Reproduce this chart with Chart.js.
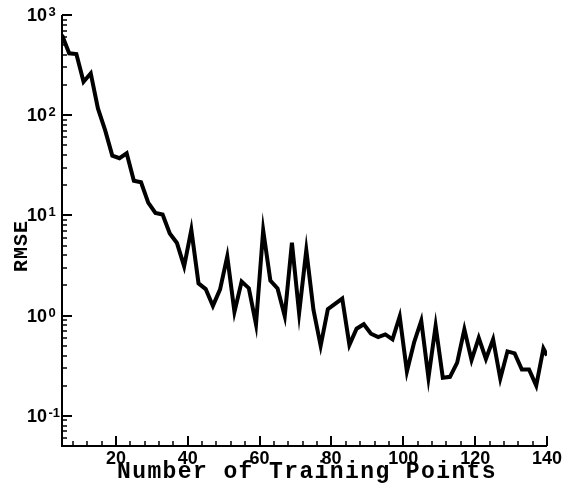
<!DOCTYPE html>
<html><head><meta charset="utf-8">
<script src="https://cdn.jsdelivr.net/npm/chart.js@4.4.1/dist/chart.umd.min.js"></script>
<style>html,body{margin:0;padding:0;background:#fff;}canvas{display:block;}</style>
</head><body>
<canvas id="c" width="570" height="489"></canvas>
<script>
// ---- data ----
const xValues = [5,7,9,11,13,15,17,19,21,23,25,27,29,31,33,35,37,39,41,43,45,47,49,51,53,55,57,59,61,63,65,67,69,71,73,75,77,79,81,83,85,87,89,91,93,95,97,99,101,103,105,107,109,111,113,115,117,119,121,123,125,127,129,131,133,135,137,139,140];
const rmse = [631,415,408,216,262,117,71,39.5,37.2,41.7,22.2,21.4,13.4,10.6,10.2,6.6,5.3,3.1,7.2,2.1,1.84,1.25,1.83,3.9,1.09,2.19,1.88,0.82,7.1,2.24,1.87,0.99,5.35,1.06,4.5,1.14,0.50,1.16,1.31,1.48,0.51,0.74,0.82,0.66,0.61,0.65,0.58,0.98,0.277,0.54,0.89,0.24,0.79,0.24,0.245,0.34,0.73,0.36,0.60,0.37,0.58,0.235,0.44,0.42,0.29,0.29,0.20,0.47,0.40];
const xTickValues = [20,40,60,80,100,120,140];
const xTickLabels = ['20','40','60','80','100','120','140'];
const xMinorStep = 4;
const yTickValues = [0.1,1,10,100,1000];
const yTickBase = '10';
const yTickExponents = ['-1','0','1','2','3'];
const xTitle = 'Number of Training Points';
const yTitle = 'RMSE';
const xRange = [5,140];
const yRange = [0.05,1000];

const decor = {
  id:'decor',
  afterDraw(chart){
    const {ctx, chartArea:a, scales:{x,y}} = chart;
    ctx.save();
    ctx.strokeStyle='#000'; ctx.fillStyle='#000';
    ctx.lineWidth=2;
    ctx.beginPath();
    yTickValues.forEach(v=>{const p=Math.round(y.getPixelForValue(v)); ctx.moveTo(a.left,p); ctx.lineTo(a.left+10,p);});
    xTickValues.forEach(v=>{const p=Math.round(x.getPixelForValue(v)); ctx.moveTo(p,a.bottom); ctx.lineTo(p,a.bottom-10);});
    ctx.stroke();
    ctx.lineWidth=1.5;
    ctx.beginPath();
    for(let e=-2;e<3;e++){
      for(let m=2;m<=9;m++){
        const v=m*Math.pow(10,e);
        if(v<yRange[0]-1e-9||v>yRange[1]) continue;
        const p=Math.round(y.getPixelForValue(v));
        ctx.moveTo(a.left,p); ctx.lineTo(a.left+5,p);
      }
    }
    for(let v=xMinorStep*2; v<xRange[1]; v+=xMinorStep){
      if(v%20===0) continue;
      const p=Math.round(x.getPixelForValue(v));
      ctx.moveTo(p,a.bottom); ctx.lineTo(p,a.bottom-5);
    }
    ctx.stroke();
    ctx.lineWidth=2;
    ctx.beginPath();
    ctx.moveTo(a.left,a.top); ctx.lineTo(a.left,a.bottom); ctx.lineTo(a.right,a.bottom);
    ctx.stroke();
    yTickValues.forEach((v,i)=>{
      const p=y.getPixelForValue(v);
      ctx.font='bold 18px "Liberation Sans", Arial, sans-serif';
      ctx.textAlign='right'; ctx.textBaseline='middle';
      ctx.fillText(yTickBase,47,p+1);
      ctx.font='bold 13px "Liberation Sans", Arial, sans-serif';
      ctx.textAlign='left'; ctx.textBaseline='alphabetic';
      ctx.fillText(yTickExponents[i],48.5,p+1);
    });
    ctx.font='bold 18px "Liberation Sans", Arial, sans-serif';
    ctx.textAlign='center'; ctx.textBaseline='alphabetic';
    xTickValues.forEach((v,i)=>{
      const p=x.getPixelForValue(v);
      ctx.fillText(xTickLabels[i],p,464);
    });
    ctx.font='bold 23px "Liberation Mono", "Courier New", monospace';
    ctx.letterSpacing='1.4px';
    ctx.textAlign='center'; ctx.textBaseline='alphabetic';
    ctx.fillText(xTitle,307,478);
    ctx.save();
    ctx.translate(21.5,246); ctx.rotate(-Math.PI/2);
    ctx.textBaseline='middle';
    ctx.letterSpacing='1px';
    ctx.font='bold 20px "Liberation Mono", "Courier New", monospace';
    ctx.fillText(yTitle,0,0);
    ctx.restore();
    ctx.restore();
  }
};

new Chart(document.getElementById('c'), {
  type:'line',
  data:{datasets:[{
    data:xValues.map((v,i)=>({x:v,y:rmse[i]})),
    borderColor:'#000', borderWidth:4, pointRadius:0, tension:0,
    borderJoinStyle:'miter', fill:false
  }]},
  options:{
    responsive:false, animation:false,
    layout:{padding:{left:62,right:23,top:15,bottom:43}},
    plugins:{legend:{display:false},tooltip:{enabled:false}},
    scales:{
      x:{type:'linear',min:xRange[0],max:xRange[1],display:false},
      y:{type:'logarithmic',min:yRange[0],max:yRange[1],display:false}
    }
  },
  plugins:[decor]
});
</script>
</body></html>
